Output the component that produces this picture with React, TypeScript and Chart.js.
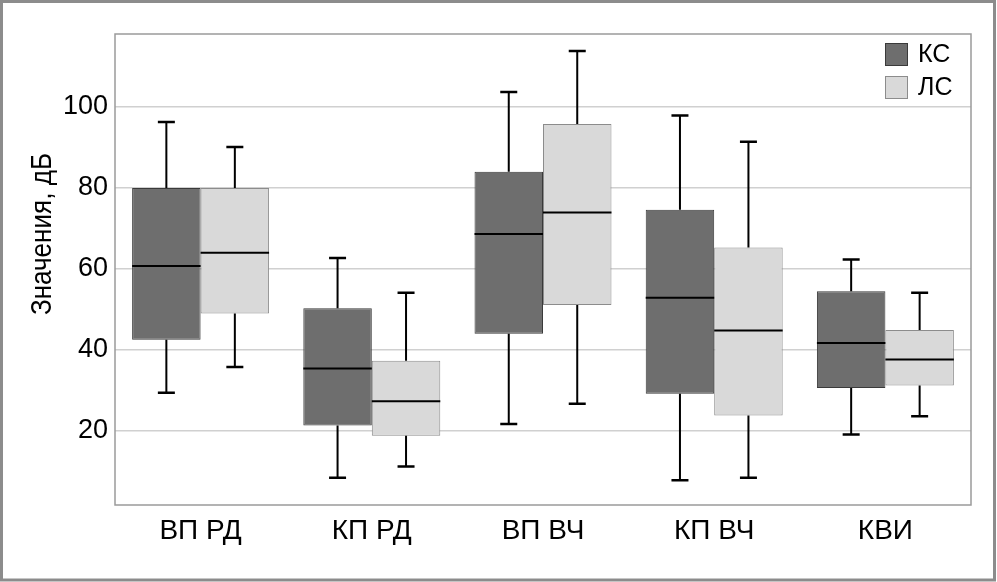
import React, { useEffect, useRef } from "react";
import { Chart, registerables } from "chart.js";

Chart.register(...registerables);

const categories = ["ВП РД", "КП РД", "ВП ВЧ", "КП ВЧ", "КВИ"];
const seriesNames = ["КС", "ЛС"];
const yTicks = [20, 40, 60, 80, 100];
const yTitle = "Значения, дБ";

const ksMin = [29.4, 8.4, 21.7, 7.8, 19.1];
const ksQ1 = [42.5, 21.3, 44.0, 29.2, 30.6];
const ksMed = [60.7, 35.4, 68.6, 52.9, 41.7];
const ksQ3 = [80.0, 50.3, 84.0, 74.6, 54.5];
const ksMax = [96.3, 62.7, 103.7, 97.9, 62.3];

const lsMin = [35.8, 11.2, 26.7, 8.4, 23.6];
const lsQ1 = [49.0, 18.8, 51.1, 23.8, 31.2];
const lsMed = [64.0, 27.3, 73.9, 44.8, 37.6];
const lsQ3 = [80.0, 37.3, 95.8, 65.3, 44.9];
const lsMax = [90.1, 54.1, 113.8, 91.4, 54.1];

const stats = [
  { min: ksMin, q1: ksQ1, med: ksMed, q3: ksQ3, max: ksMax },
  { min: lsMin, q1: lsQ1, med: lsMed, q3: lsQ3, max: lsMax },
];

const FONT = "'Liberation Sans', Arial, sans-serif";
const fills = ["#6e6e6e", "#d9d9d9"];
const borders = ["#3a3a3a", "#8c8c8c"];

const boxPlugin = {
  id: "boxExtras",
  beforeDraw(chart: any) {
    const ctx = chart.ctx;
    ctx.save();
    ctx.fillStyle = "#ffffff";
    ctx.fillRect(0, 0, chart.width, chart.height);
    ctx.restore();
  },
  afterDatasetsDraw(chart: any) {
    const ctx = chart.ctx;
    const ys = chart.scales.y;
    ctx.save();
    ctx.strokeStyle = "#000000";
    chart.data.datasets.forEach((_ds: any, di: number) => {
      const meta = chart.getDatasetMeta(di);
      const s = stats[di];
      meta.data.forEach((bar: any, i: number) => {
        const { x, width } = bar.getProps(["x", "width"], true);
        const pMax = ys.getPixelForValue(s.max[i]);
        const pQ3 = ys.getPixelForValue(s.q3[i]);
        const pQ1 = ys.getPixelForValue(s.q1[i]);
        const pMin = ys.getPixelForValue(s.min[i]);
        const pMed = ys.getPixelForValue(s.med[i]);
        const capW = 8.5;
        ctx.lineWidth = 2;
        ctx.beginPath();
        ctx.moveTo(x, pQ3);
        ctx.lineTo(x, pMax);
        ctx.moveTo(x, pQ1);
        ctx.lineTo(x, pMin);
        ctx.stroke();
        ctx.lineWidth = 2.5;
        ctx.beginPath();
        ctx.moveTo(x - capW, pMax);
        ctx.lineTo(x + capW, pMax);
        ctx.moveTo(x - capW, pMin);
        ctx.lineTo(x + capW, pMin);
        ctx.stroke();
        ctx.lineWidth = 2;
        ctx.beginPath();
        ctx.moveTo(x - width / 2, pMed);
        ctx.lineTo(x + width / 2, pMed);
        ctx.stroke();
      });
    });
    ctx.restore();
  },
  afterDraw(chart: any) {
    const ctx = chart.ctx;
    const a = chart.chartArea;
    ctx.save();
    ctx.strokeStyle = "#9a9a9a";
    ctx.lineWidth = 1.5;
    ctx.strokeRect(a.left, a.top, a.right - a.left, a.bottom - a.top);
    ctx.strokeStyle = "#8c8c8c";
    ctx.lineWidth = 3;
    ctx.strokeRect(1.5, 1.5, chart.width - 4, chart.height - 3.5);
    ctx.fillStyle = "#000000";
    ctx.font = `29px ${FONT}`;
    ctx.textAlign = "center";
    ctx.textBaseline = "middle";
    ctx.translate(43, 234);
    ctx.rotate(-Math.PI / 2);
    ctx.scale(0.9, 1);
    ctx.fillText(yTitle, 0, 0);
    ctx.restore();
    ctx.save();
    const lx = 885;
    const ly = [43, 76];
    chart.data.datasets.forEach((ds: any, di: number) => {
      ctx.fillStyle = fills[di];
      ctx.fillRect(lx, ly[di], 23, 23);
      ctx.strokeStyle = borders[di];
      ctx.lineWidth = 1;
      ctx.strokeRect(lx + 0.5, ly[di] + 0.5, 22, 22);
      ctx.fillStyle = "#000000";
      ctx.font = `25px ${FONT}`;
      ctx.textAlign = "left";
      ctx.textBaseline = "middle";
      ctx.fillText(ds.label, lx + 33, ly[di] + 12);
    });
    ctx.restore();
  },
};

export default function App() {
  const ref = useRef<HTMLCanvasElement | null>(null);
  useEffect(() => {
    document.body.style.margin = "0";
    const canvas = ref.current;
    if (!canvas) return;
    const chart = new Chart(canvas, {
      type: "bar",
      data: {
        labels: categories,
        datasets: stats.map((s, di) => ({
          label: seriesNames[di],
          data: s.q1.map((v, i) => [v, s.q3[i]]),
          backgroundColor: fills[di],
          borderColor: borders[di],
          borderWidth: 1,
          borderSkipped: false,
          categoryPercentage: 0.8,
          barPercentage: 1.0,
        })),
      },
      options: {
        animation: false,
        responsive: false,
        maintainAspectRatio: false,
        devicePixelRatio: 1,
        layout: { padding: { top: 34, right: 26, left: 0, bottom: 0 } },
        plugins: {
          legend: { display: false },
          tooltip: { enabled: false },
        },
        scales: {
          x: {
            grid: { display: false, drawTicks: false },
            border: { display: false },
            ticks: {
              color: "#000000",
              font: { family: FONT, size: 28 },
              padding: 9,
            },
            afterFit: (scale: any) => {
              scale.height = 77;
            },
          },
          y: {
            min: 1.7,
            max: 118,
            afterBuildTicks: (scale: any) => {
              scale.ticks = yTicks.map((v) => ({ value: v }));
            },
            grid: { color: "#d0d0d0", lineWidth: 1.5, drawTicks: false },
            border: { display: false },
            ticks: {
              color: "#000000",
              font: { family: FONT, size: 27 },
              padding: 7,
            },
            afterFit: (scale: any) => {
              scale.width = 115;
            },
          },
        },
      },
      plugins: [boxPlugin],
    });
    return () => chart.destroy();
  }, []);
  return (
    <div style={{ position: "absolute", left: 0, top: 0, width: 997, height: 582 }}>
      <canvas ref={ref} width={997} height={582} style={{ display: "block" }} />
    </div>
  );
}
